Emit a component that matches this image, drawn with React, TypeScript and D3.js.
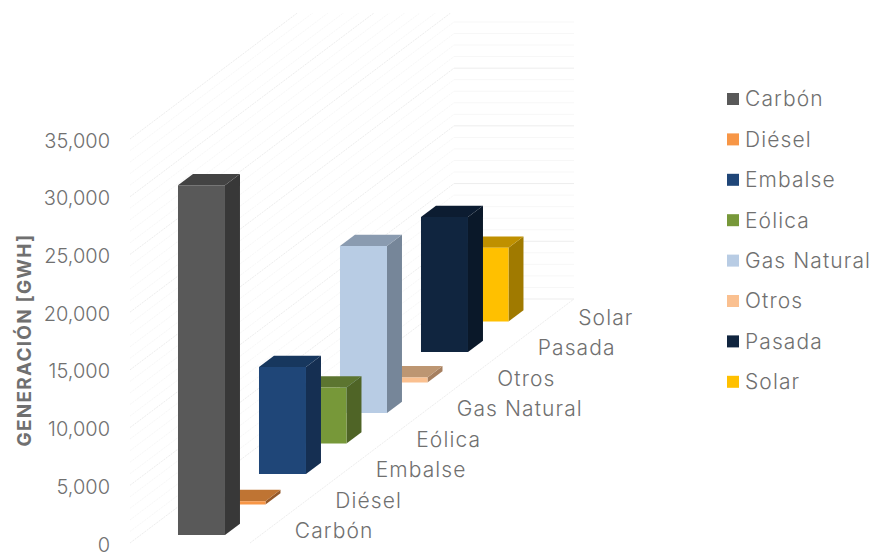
import React from "react";
import * as d3 from "d3";

// Generación por tecnología, en GWh
const categories = ["Carbón", "Diésel", "Embalse", "Eólica", "Gas Natural", "Otros", "Pasada", "Solar"];
const values = [30300, 300, 9270, 4850, 14470, 450, 11700, 6400];
const frontColors = ["#595959", "#f79646", "#1f4678", "#779839", "#b8cce4", "#fac090", "#10253f", "#ffc000"];
const sideColors = ["#383838", "#94592a", "#152f52", "#4f6426", "#768699", "#a67f5f", "#0a1829", "#a07a00"];
const topColors = ["#434343", "#bf7433", "#17375e", "#5c7530", "#8a9bb0", "#bd9672", "#0c1c31", "#bf9000"];
const yTicks = [0, 5000, 10000, 15000, 20000, 25000, 30000, 35000];
const gridValues = d3.range(0, 35001, 1000);

const WIDTH = 872;
const HEIGHT = 552;
const FONT = "Inter, Lato, 'Open Sans', sans-serif";
const TEXT = "#707070";

// Oblique projection: floor corner, depth vector and bar footprint
const originX = 130;
const originY = 543;
const floorWidth = 120;
const depthX = 324;
const depthY = -244;
const barLateral = 37.5;
const barWidth = 47;

const rise = d3.scaleLinear().domain([0, 35000]).range([0, 404]);
const depth = d3
  .scaleBand<string>()
  .domain(categories)
  .range([-0.007, 0.993])
  .paddingInner(0.63)
  .paddingOuter(0.315);

const project = (lateral: number, value: number, d: number): [number, number] => [
  originX + lateral + d * depthX,
  originY + d * depthY - rise(value),
];

const poly = (pts: [number, number][]) => pts.map((p) => p.join(",")).join(" ");

function Bar({ index }: { index: number }) {
  const name = categories[index];
  const d0 = depth(name) as number;
  const d1 = d0 + depth.bandwidth();
  const v = values[index];
  const l0 = barLateral;
  const l1 = barLateral + barWidth;
  return (
    <g>
      <polygon
        points={poly([project(l1, 0, d0), project(l1, 0, d1), project(l1, v, d1), project(l1, v, d0)])}
        fill={sideColors[index]}
      />
      <polygon
        points={poly([project(l0, v, d0), project(l1, v, d0), project(l1, v, d1), project(l0, v, d1)])}
        fill={topColors[index]}
      />
      <polygon
        points={poly([project(l0, 0, d0), project(l1, 0, d0), project(l1, v, d0), project(l0, v, d0)])}
        fill={frontColors[index]}
      />
    </g>
  );
}

export default function App() {
  const format = d3.format(",");
  return (
    <svg
      width={WIDTH}
      height={HEIGHT}
      viewBox={`0 0 ${WIDTH} ${HEIGHT}`}
      style={{ position: "absolute", left: 0, top: 0, background: "#fff" }}
      fontFamily={FONT}
    >
      <defs>
        <clipPath id="plot-clip">
          <rect x={0} y={13} width={WIDTH} height={HEIGHT - 13} />
        </clipPath>
      </defs>

      {/* Walls and floor */}
      <g clipPath="url(#plot-clip)" fill="none">
        {gridValues.map((v) => {
          const major = v % 5000 === 0;
          const stroke = major ? "#ededed" : "#f7f7f7";
          const a = project(0, v, 0);
          const b = project(0, v, 1);
          const c = project(floorWidth, v, 1);
          return (
            <g key={v} stroke={stroke} strokeWidth={1}>
              <line x1={a[0]} y1={a[1]} x2={b[0]} y2={b[1]} strokeDasharray="2 1" />
              <line x1={b[0]} y1={b[1]} x2={c[0]} y2={c[1]} />
            </g>
          );
        })}
        <line
          x1={project(floorWidth, 0, 0)[0]}
          y1={project(floorWidth, 0, 0)[1]}
          x2={project(floorWidth, 0, 1)[0]}
          y2={project(floorWidth, 0, 1)[1]}
          stroke="#ededed"
          strokeDasharray="2 1"
        />
      </g>

      {/* Bars, painted from the back row forward */}
      {d3.range(categories.length - 1, -1, -1).map((i) => (
        <Bar key={categories[i]} index={i} />
      ))}

      {/* Value axis */}
      <g fontSize={20} fontWeight={300} fill={TEXT} textAnchor="end">
        {yTicks.map((t) => (
          <text key={t} x={110} y={originY - rise(t) + 1.5} dy="0.35em">
            {format(t)}
          </text>
        ))}
      </g>
      <text
        transform="translate(24,340) rotate(-90)"
        textAnchor="middle"
        dy="0.35em"
        fontSize={19}
        fontWeight={700}
        letterSpacing={1.2}
        fill={TEXT}
      >
        GENERACIÓN [GWH]
      </text>

      {/* Category labels along the floor edge */}
      <g fontSize={21} fontWeight={300} letterSpacing={1.1} fill={TEXT}>
        {categories.map((c, i) => {
          const p = project(floorWidth, 0, (i + 0.5) / categories.length);
          return (
            <text key={c} x={p[0] + 24.5} y={p[1] + 3} dy="0.35em">
              {c}
            </text>
          );
        })}
      </g>

      {/* Legend */}
      <g fontSize={21} fontWeight={300} letterSpacing={1.1} fill={TEXT}>
        {categories.map((c, i) => {
          const y = 99 + i * 40.4;
          return (
            <g key={c}>
              <rect x={727} y={y - 6} width={12} height={12} fill={frontColors[i]} />
              <text x={745} y={y} dy="0.35em">
                {c}
              </text>
            </g>
          );
        })}
      </g>
    </svg>
  );
}
